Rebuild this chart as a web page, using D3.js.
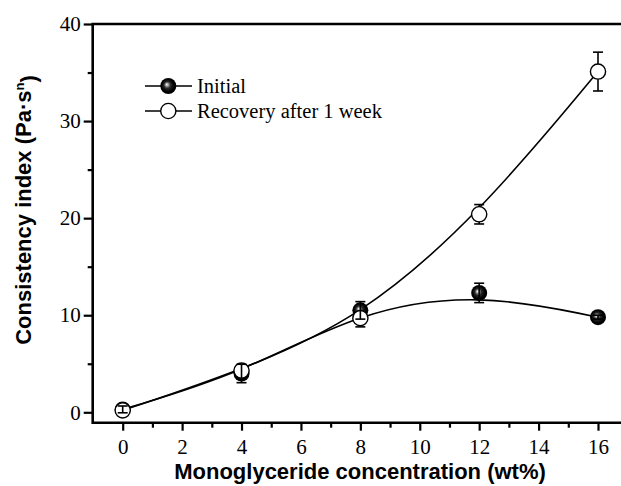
<!DOCTYPE html>
<html lang="en">
<head>
  <meta charset="UTF-8">
  <title>Consistency index vs monoglyceride concentration</title>
  <style>
    body { margin: 0; padding: 0; background: #ffffff; }
    svg { display: block; }
    .tick text { font-family: 'Liberation Serif', 'Times New Roman', serif; font-size: 21px; fill: #000; }
    .axis-title { font-family: 'Liberation Sans', Arial, sans-serif; font-weight: bold; font-size: 22px; fill: #000; }
    .legend text { font-family: 'Liberation Serif', 'Times New Roman', serif; font-size: 20.5px; fill: #000; }
  </style>
</head>
<body>

<svg id="chart"></svg>

<script src="https://d3js.org/d3.v7.min.js"></script>
<script>
  const width = 621, height = 486;

  // data
  const concentration = [0, 4, 8, 12, 16];
  const initial = [0.3, 4.0, 10.5, 12.3, 9.8];
  const initialErr = [0.35, 0.95, 0.9, 1.0, 0.2];
  const recovery = [0.2, 4.3, 9.7, 20.4, 35.1];
  const recoveryErr = [0.3, 0.6, 0.9, 1.0, 2.0];
  const xMajor = [0, 2, 4, 6, 8, 10, 12, 14, 16];
  const xMinor = [1, 3, 5, 7, 9, 11, 13, 15];
  const yMajor = [0, 10, 20, 30, 40];
  const yMinor = [5, 15, 25, 35];
  const legendLabels = ["Initial", "Recovery after 1 week"];

  const frameLeft = 92.7, frameTop = 24, frameBottom = 422.7, frameRight = 630;

  const x = d3.scaleLinear().domain([0, 16]).range([122.7, 598]);
  const y = d3.scaleLinear().domain([0, 40]).range([412.3, 24]);

  const svg = d3.select("#chart").attr("width", width).attr("height", height);

  // shaded ball marker
  const defs = svg.append("defs");
  const grad = defs.append("radialGradient").attr("id", "sphere")
    .attr("cx", "0.5").attr("cy", "0.5").attr("r", "0.55")
    .attr("fx", "0.4").attr("fy", "0.4");
  grad.append("stop").attr("offset", "0").attr("stop-color", "#ffffff");
  grad.append("stop").attr("offset", "0.12").attr("stop-color", "#bbbbbb");
  grad.append("stop").attr("offset", "0.38").attr("stop-color", "#2a2a2a");
  grad.append("stop").attr("offset", "0.7").attr("stop-color", "#000000");

  // axes
  const gx = svg.append("g").attr("transform", `translate(0,${frameBottom})`);
  gx.call(d3.axisBottom(x).tickValues(xMajor).tickSize(8).tickPadding(8.5).tickFormat(d3.format("d")));
  gx.append("g").call(d3.axisBottom(x).tickValues(xMinor).tickSize(5).tickFormat(""));

  const gy = svg.append("g").attr("transform", `translate(${frameLeft},0)`);
  gy.call(d3.axisLeft(y).tickValues(yMajor).tickSize(9).tickPadding(3).tickFormat(d3.format("d")));
  gy.append("g").call(d3.axisLeft(y).tickValues(yMinor).tickSize(5).tickFormat(""));

  svg.selectAll(".domain").remove();
  svg.selectAll(".tick line").attr("stroke", "#000").attr("stroke-width", 2.2);

  // frame
  svg.append("path")
    .attr("d", `M${frameRight},${frameTop}H${frameLeft}V${frameBottom}H${frameRight}`)
    .attr("fill", "none").attr("stroke", "#000").attr("stroke-width", 2.6);

  // titles
  svg.append("text").attr("class", "axis-title")
    .attr("x", 360).attr("y", 479).attr("text-anchor", "middle")
    .text("Monoglyceride concentration (wt%)");

  const yt = svg.append("text").attr("class", "axis-title")
    .attr("transform", "translate(31,210) rotate(-90)").attr("text-anchor", "middle");
  yt.append("tspan").text("Consistency index (Pa·s");
  yt.append("tspan").attr("dy", "-0.55em").attr("font-size", "13px").text("n");
  yt.append("tspan").attr("dy", "0.55em").text(")");

  const rows = concentration.map((c, i) => ({
    c, ini: initial[i], iniErr: initialErr[i], rec: recovery[i], recErr: recoveryErr[i]
  }));

  const line = d3.line().curve(d3.curveBasis);

  svg.append("path")
    .attr("d", line(rows.map(d => [x(d.c), y(d.ini)])))
    .attr("fill", "none").attr("stroke", "#000").attr("stroke-width", 1.6);
  svg.append("path")
    .attr("d", line(rows.map(d => [x(d.c), y(d.rec)])))
    .attr("fill", "none").attr("stroke", "#000").attr("stroke-width", 1.6);

  function errorBars(key, errKey) {
    const g = svg.append("g").attr("stroke", "#000").attr("stroke-width", 1.6);
    rows.forEach(d => {
      const cx = x(d.c), y1 = y(d[key] + d[errKey]), y2 = y(d[key] - d[errKey]);
      g.append("line").attr("x1", cx).attr("x2", cx).attr("y1", y1).attr("y2", y2);
      g.append("line").attr("x1", cx - 5).attr("x2", cx + 5).attr("y1", y1).attr("y2", y1);
      g.append("line").attr("x1", cx - 5).attr("x2", cx + 5).attr("y1", y2).attr("y2", y2);
    });
  }

  errorBars("rec", "recErr");

  svg.append("g").selectAll("circle").data(rows).join("circle")
    .attr("cx", d => x(d.c)).attr("cy", d => y(d.ini)).attr("r", 8)
    .attr("fill", "url(#sphere)");

  svg.append("g").selectAll("circle").data(rows).join("circle")
    .attr("cx", d => x(d.c)).attr("cy", d => y(d.rec)).attr("r", 7.6)
    .attr("fill", "#fff").attr("stroke", "#000").attr("stroke-width", 1.4);

  errorBars("ini", "iniErr");

  // legend
  const legend = svg.append("g").attr("class", "legend");
  legendLabels.forEach((label, i) => {
    const ly = 86 + i * 25;
    legend.append("line").attr("x1", 145).attr("x2", 192).attr("y1", ly).attr("y2", ly)
      .attr("stroke", "#000").attr("stroke-width", 1.6);
    if (i === 0) {
      legend.append("circle").attr("cx", 168.3).attr("cy", ly).attr("r", 8).attr("fill", "url(#sphere)");
    } else {
      legend.append("circle").attr("cx", 168.3).attr("cy", ly).attr("r", 7.6)
        .attr("fill", "#fff").attr("stroke", "#000").attr("stroke-width", 1.4);
    }
    legend.append("text").attr("x", 197).attr("y", ly + 7).text(label);
  });
</script>

</body>
</html>
